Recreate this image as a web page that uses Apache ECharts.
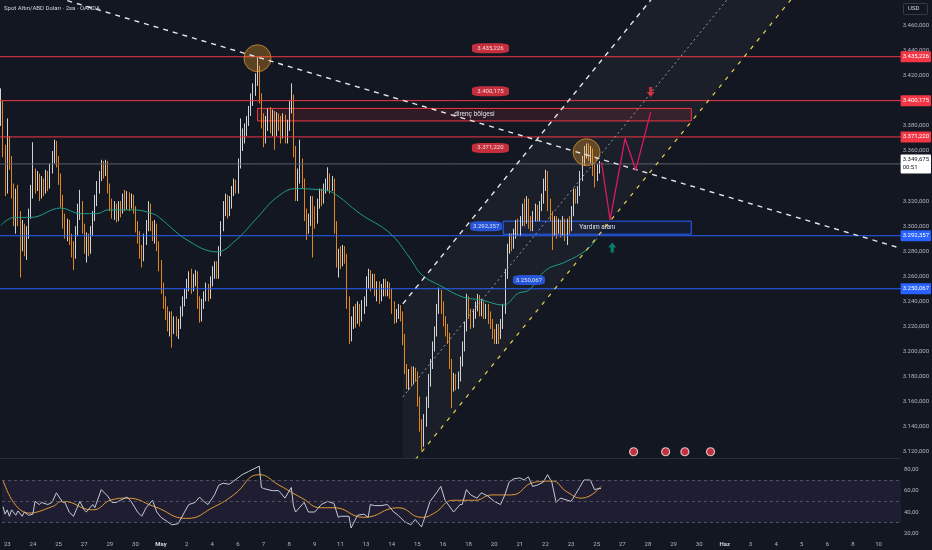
<!DOCTYPE html>
<html><head><meta charset="utf-8">
<script src="https://cdn.jsdelivr.net/npm/echarts@6/dist/echarts.min.js"></script>
<style>html,body{margin:0;padding:0;background:#131722;}#c{width:932px;height:550px;}</style>
</head><body><div id="c"></div><script>
// ---------- DATA ----------
const dayLabels = ['23','24','25','27','29','30','May','2','4','6','7','8','9','11','13','14','15','16','18','20','21','22','23','25','27','28','29','30','Haz','3','4','5','6','8','10'];
const barsPerDay = 12;
const firstDayBar = 2;
const slotCount = 421;

// 2h candles: [open, close, low, high]
const ohlc = [
[3385,3396,3380,3410],[3396,3362,3355,3400],[3362,3330,3324,3365],[3330,3368,3326,3386],[3368,3352,3345,3372],[3352,3330,3322,3356],[3330,3312,3300,3334],[3312,3325,3294,3330],[3325,3307,3300,3333],[3307,3290,3259,3312],
[3290,3298,3280,3305],[3298,3285,3276,3302],[3285,3295,3273,3300],[3295,3310,3290,3314],[3310,3328,3306,3333],[3328,3340,3322,3367],[3340,3332,3326,3346],[3332,3338,3328,3344],[3338,3326,3320,3342],[3326,3334,3322,3340],
[3334,3330,3324,3338],[3330,3340,3326,3345],[3340,3333,3328,3344],[3333,3345,3330,3350],[3345,3356,3342,3360],[3356,3364,3350,3369],[3364,3352,3347,3368],[3352,3338,3333,3356],[3338,3320,3315,3342],[3320,3305,3298,3325],
[3305,3296,3290,3310],[3296,3302,3288,3306],[3302,3290,3285,3305],[3290,3282,3275,3294],[3282,3278,3265,3288],[3278,3296,3274,3300],[3296,3312,3292,3318],[3312,3318,3305,3329],[3318,3298,3294,3320],[3298,3284,3278,3302],
[3284,3290,3271,3295],[3290,3282,3276,3294],[3282,3296,3278,3300],[3296,3308,3292,3312],[3308,3320,3304,3325],[3320,3332,3316,3336],[3332,3340,3326,3344],[3340,3348,3336,3353],[3348,3344,3338,3352],[3344,3350,3340,3353],
[3350,3330,3326,3352],[3330,3318,3312,3334],[3318,3310,3306,3322],[3310,3315,3305,3320],[3315,3308,3303,3318],[3308,3316,3304,3320],[3316,3312,3307,3320],[3312,3322,3310,3326],[3322,3316,3312,3329],[3316,3324,3313,3328],
[3324,3318,3312,3327],[3318,3322,3314,3326],[3322,3314,3310,3325],[3314,3300,3295,3316],[3300,3292,3286,3304],[3292,3280,3274,3296],[3280,3276,3267,3285],[3276,3290,3272,3294],[3290,3300,3285,3305],[3300,3316,3296,3320],
[3316,3300,3296,3318],[3300,3292,3288,3304],[3292,3300,3286,3305],[3300,3284,3280,3302],[3284,3270,3264,3288],[3270,3252,3246,3273],[3252,3240,3234,3255],[3240,3230,3225,3244],[3230,3222,3216,3236],[3222,3228,3212,3232],
[3228,3218,3203,3232],[3218,3224,3214,3228],[3224,3216,3212,3228],[3216,3222,3210,3226],[3222,3232,3218,3236],[3232,3240,3228,3244],[3240,3246,3236,3250],[3246,3254,3242,3258],[3254,3260,3248,3264],[3260,3252,3246,3266],
[3252,3258,3248,3262],[3258,3262,3252,3265],[3262,3240,3234,3264],[3240,3228,3223,3244],[3228,3238,3224,3242],[3238,3244,3234,3248],[3244,3250,3240,3255],[3250,3246,3240,3254],[3246,3256,3242,3260],[3256,3264,3252,3268],
[3264,3268,3258,3272],[3268,3262,3258,3272],[3262,3280,3258,3284],[3280,3300,3276,3304],[3300,3315,3296,3320],[3315,3322,3308,3326],[3322,3312,3306,3325],[3312,3318,3308,3324],[3318,3328,3314,3332],[3328,3334,3324,3338],
[3334,3330,3326,3337],[3330,3350,3326,3354],[3350,3366,3346,3386],[3366,3372,3360,3378],[3372,3378,3366,3382],[3378,3384,3372,3388],[3384,3392,3380,3396],[3392,3402,3388,3406],[3402,3410,3396,3414],[3410,3418,3404,3422],
[3418,3425,3412,3435],[3425,3402,3398,3428],[3402,3385,3378,3406],[3385,3370,3363,3390],[3370,3382,3366,3388],[3382,3390,3376,3394],[3390,3380,3374,3395],[3380,3388,3372,3393],[3388,3378,3361,3392],[3378,3386,3372,3391],
[3386,3382,3376,3390],[3382,3376,3366,3388],[3376,3386,3370,3390],[3386,3372,3366,3389],[3372,3380,3366,3385],[3380,3396,3376,3400],[3396,3402,3390,3414],[3402,3360,3355,3405],[3360,3324,3320,3364],[3324,3340,3320,3346],
[3340,3350,3334,3369],[3350,3336,3330,3354],[3336,3310,3304,3338],[3310,3298,3289,3314],[3298,3306,3294,3310],[3306,3320,3300,3324],[3320,3312,3275,3324],[3312,3306,3298,3316],[3306,3318,3302,3322],[3318,3326,3314,3330],
[3326,3322,3316,3330],[3322,3330,3318,3334],[3330,3334,3326,3338],[3334,3338,3328,3347],[3338,3332,3326,3342],[3332,3336,3328,3340],[3336,3300,3294,3338],[3300,3272,3267,3304],[3272,3278,3259,3282],[3278,3272,3266,3284],
[3272,3280,3268,3285],[3280,3276,3270,3284],[3276,3240,3234,3278],[3240,3212,3206,3244],[3212,3222,3208,3228],[3222,3232,3218,3236],[3232,3226,3219,3238],[3226,3234,3222,3240],[3234,3228,3220,3238],[3228,3236,3224,3241],
[3236,3240,3230,3244],[3240,3256,3236,3260],[3256,3262,3250,3266],[3262,3254,3248,3265],[3254,3258,3250,3262],[3258,3248,3244,3262],[3248,3252,3240,3256],[3252,3244,3238,3256],[3244,3250,3240,3254],[3250,3254,3244,3258],
[3254,3248,3244,3258],[3248,3252,3244,3256],[3252,3246,3242,3255],[3246,3236,3230,3250],[3236,3226,3222,3240],[3226,3230,3223,3234],[3230,3234,3226,3238],[3234,3228,3224,3237],[3228,3210,3205,3232],[3210,3186,3182,3214],
[3186,3176,3170,3190],[3176,3182,3169,3186],[3182,3178,3172,3188],[3178,3184,3174,3188],[3184,3180,3176,3187],[3180,3160,3156,3184],[3160,3140,3136,3164],[3140,3128,3121,3146],[3128,3145,3124,3150],[3145,3160,3140,3164],
[3160,3176,3155,3182],[3176,3190,3172,3194],[3190,3204,3186,3208],[3204,3216,3200,3220],[3216,3234,3212,3238],[3234,3246,3230,3251],[3246,3236,3230,3249],[3236,3224,3220,3240],[3224,3218,3212,3228],[3218,3212,3206,3222],
[3212,3190,3186,3215],[3190,3172,3155,3194],[3172,3178,3168,3183],[3178,3174,3169,3182],[3174,3180,3170,3184],[3180,3192,3176,3196],[3192,3204,3188,3208],[3204,3220,3200,3224],[3220,3240,3216,3246],[3240,3230,3226,3244],
[3230,3222,3218,3234],[3222,3230,3219,3234],[3230,3236,3226,3240],[3236,3242,3232,3246],[3242,3234,3228,3245],[3234,3238,3228,3242],[3238,3230,3226,3240],[3230,3235,3226,3238],[3235,3228,3222,3238],[3228,3222,3218,3232],
[3222,3214,3210,3226],[3214,3210,3206,3218],[3210,3218,3206,3222],[3218,3212,3206,3222],[3212,3222,3210,3226],[3222,3234,3218,3238],[3234,3262,3230,3266],[3262,3282,3258,3286],[3282,3290,3278,3294],[3290,3284,3280,3294],
[3284,3294,3282,3298],[3294,3300,3290,3305],[3300,3296,3292,3306],[3296,3304,3292,3308],[3304,3312,3300,3318],[3312,3306,3300,3322],[3306,3318,3302,3324],[3318,3304,3298,3322],[3304,3300,3296,3308],[3300,3308,3296,3312],
[3308,3314,3304,3318],[3314,3308,3304,3317],[3308,3316,3304,3320],[3316,3322,3312,3326],[3322,3334,3318,3338],[3334,3342,3328,3345],[3342,3318,3312,3344],[3318,3308,3304,3322],[3308,3296,3281,3312],[3296,3304,3292,3308],
[3304,3298,3290,3308],[3298,3302,3294,3306],[3302,3296,3291,3305],[3296,3304,3292,3308],[3304,3298,3288,3306],[3298,3302,3285,3306],[3302,3300,3294,3308],[3300,3312,3296,3316],[3312,3326,3308,3330],[3326,3322,3318,3330],
[3322,3328,3318,3332],[3328,3340,3324,3344],[3340,3352,3336,3356],[3352,3358,3348,3364],[3358,3362,3354,3366],[3362,3356,3352,3366],[3356,3360,3350,3364],[3360,3346,3340,3362],[3346,3340,3331,3350],[3340,3346,3336,3350],
[3346,3349.675,3342,3352]
];

// teal moving average [bar, price]
const maLine = [[0,3300.8],[6,3307],[14,3307],[28,3314.5],[37,3310],[45,3310],[50,3313],[62,3313],[71,3310],[74,3307],[87,3289],[101,3279.5],[110,3289],[120,3307],[129,3323],[138,3330],[149,3329],[155,3327],[168,3310],[182,3294.4],[191,3275.3],[197,3261],[205,3253],[216,3243.5],[225,3241],[235,3237],[242,3246.5],[247,3249],[255,3265],[264,3271.4],[274,3281],[279,3290.6]];

// RSI [bar, value]
const rsiLine = [[0,45],[1,38],[2,42],[3,36],[4,42],[6,37],[7,41],[9,36],[10,40],[12,37],[14,38],[15,50],[17,47],[18,49],[21,47],[23,49],[25,58],[28,49],[29,49],[31,40],[33,36],[36,50],[38,42],[39,40],[42,47],[43,44],[46,61],[49,55],[51,49],[53,49],[58,54],[60,50],[63,40],[65,36],[67,44],[70,51],[72,40],[74,35],[77,31],[79,28],[82,29],[85,40],[87,47],[90,49],[92,54],[94,50],[96,47],[99,56],[101,65],[103,67],[106,66],[108,69],[112,75],[115,78],[120,83],[121,63],[122,62],[126,60],[129,60],[130,58],[132,53],[135,63],[136,46],[137,40],[141,49],[143,40],[146,40],[149,47],[152,50],[155,48],[157,35],[158,36],[162,36],[163,25],[166,37],[169,38],[171,35],[172,47],[174,46],[177,46],[180,47],[183,40],[185,37],[188,31],[191,28],[193,33],[196,26],[200,50],[203,58],[205,64],[207,51],[211,40],[214,47],[215,47],[217,61],[219,56],[222,53],[224,58],[227,55],[230,50],[233,47],[235,56],[237,68],[239,71],[242,72],[244,70],[246,73],[248,64],[250,65],[253,68],[255,75],[257,68],[259,49],[261,53],[266,50],[267,53],[270,63],[272,70],[275,70],[277,61],[279,62],[280,62]];
const rsiMa = [[0,70],[12,39],[23,45],[28,50],[42,42],[51,51.5],[58,53],[71,45],[86,34],[99,45],[108,56],[120,75],[129,65.5],[140,53],[149,44],[155,44],[169,35],[185,44],[196,35],[202,39],[211,51],[221,51],[229,56],[238,56],[249,68],[257,69],[264,59],[271,53],[280,64]];
const rsiBands = [70, 50, 30];

// levels and drawings (data units: bar index, price)
const redLevels = [3435.226, 3400.175, 3371.220];
const blueLevels = [3292.357, 3250.067];
const lastPrice = 3349.675;
const countdown = '00:51';
const resistanceZone = [[120, 3394], [323, 3384]];
const supportZone = [[235, 3304], [323, 3293.6]];
const redTags = [[229, 3442, 3435.226], [229, 3407.6, 3400.175], [229, 3362.4, 3371.220]];
const blueTags = [[227, 3300, 3292.357], [247, 3257, 3250.067]];
const downTrend = [[31, 3480], [419, 3283.4]];
const channelUpper = [[188, 3238], [310, 3493]];
const channelMid = [[188, 3163.7], [345, 3491.7]];
const channelLower = [[188, 3101.4], [375, 3492]];
const projection = [[281, 3351], [285, 3305], [292, 3370], [297, 3345], [304, 3391]];
const arrowDown = [[304, 3407]];
const arrowUp = [[286, 3283]];
const highlights = [[120, 3434], [274, 3359]];
const events = [[296, 3120], [311, 3120], [320, 3120], [332, 3120]];

// ---------- BUILD ----------
function fmt(v, d) {
  const s = v.toFixed(d); const parts = s.split('.');
  return parts[0].replace(/\B(?=(\d{3})+(?!\d))/g, '.') + (parts[1] ? ',' + parts[1] : '');
}
const categories = [];
for (let k = 0; k < slotCount; k++) {
  const d = (k - firstDayBar) / barsPerDay;
  categories.push(k >= firstDayBar && Number.isInteger(d) && d < dayLabels.length ? dayLabels[d] : '');
}
const FONT = 'Roboto';
const txt = '#b2b5be';
const RED = '#f23645', BLUE = '#2962ff';

// each horizontal level: a plain line across the pane + a marker label on the price scale
function levelSeries(v, color, bg, textColor, extra) {
  return {type: 'line', xAxisIndex: 0, yAxisIndex: 0, z: 5, symbol: 'none', silent: true, clip: true,
    data: [[-2, v], [slotCount + 1, v]],
    lineStyle: {color: color, width: 1, type: 'solid'},
    markLine: {silent: true, symbol: ['none', 'none'], z: 6, precision: 3,
      lineStyle: {color: 'rgba(0,0,0,0)', width: 1},
      label: {show: true, position: 'end', distance: 1, fontSize: 6, fontFamily: FONT, padding: [2, 2, 1, 2],
        borderRadius: 1, backgroundColor: bg, color: textColor, lineHeight: 8, opacity: 1,
        formatter: () => fmt(v, 3) + (extra || '')},
      data: [{yAxis: v}]}};
}
const levelList = [];
redLevels.forEach(v => levelList.push(levelSeries(v, RED, RED, '#ffffff')));
blueLevels.forEach(v => levelList.push(levelSeries(v, BLUE, BLUE, '#ffffff')));
levelList.push(levelSeries(lastPrice, '#5d606b', '#ffffff', '#131722', '\n' + countdown));

const chart = echarts.init(document.getElementById('c'), null, {renderer: 'canvas'});
chart.setOption({
  backgroundColor: '#131722',
  animation: false,
  textStyle: {fontFamily: FONT},
  graphic: [
    {type: 'text', left: 4, top: 5, style: {text: 'Spot Altın/ABD Doları · 2sa · OANDA', fill: '#d1d4dc', font: '6px Roboto'}},
    {type: 'rect', left: 903, top: 3, shape: {width: 24, height: 11, r: 1}, style: {fill: '#131722', stroke: '#363a45', lineWidth: 1}},
    {type: 'text', left: 908, top: 5.5, style: {text: 'USD', fill: '#d1d4dc', font: '6px Roboto'}}
  ],
  grid: [
    {left: 0, right: 31, top: 0, height: 458},
    {left: 0, right: 31, top: 460, height: 76}
  ],
  xAxis: [
    {type: 'category', gridIndex: 0, data: categories, axisLabel: {show: false}, axisTick: {show: false},
     axisLine: {show: true, lineStyle: {color: '#2a2e39'}}, splitLine: {show: false}},
    {type: 'category', gridIndex: 1, data: categories, axisTick: {show: false}, axisLine: {show: false},
     splitLine: {show: false},
     axisLabel: {interval: 0, color: txt, fontSize: 6, margin: 5, fontFamily: FONT,
       formatter: v => (v === 'May' || v === 'Haz') ? '{m|' + v + '}' : v,
       rich: {m: {fontWeight: 'bold', color: '#d1d4dc', fontSize: 6}}}}
  ],
  yAxis: [
    {type: 'value', gridIndex: 0, position: 'right', min: 3115, max: 3480.5, minInterval: 20, maxInterval: 20,
     splitLine: {show: false}, axisLine: {show: false}, axisTick: {show: false},
     axisLabel: {color: txt, fontSize: 6, margin: 3, fontFamily: FONT,
       formatter: v => (Math.abs(v % 20) < 1e-6 && v >= 3120 && v <= 3460 && v !== 3400 && v !== 3340) ? fmt(v, 3) : ''}},
    {type: 'value', gridIndex: 1, position: 'right', min: 17.52, max: 88.74, minInterval: 20, maxInterval: 20,
     splitLine: {show: false}, axisLine: {show: false}, axisTick: {show: false},
     axisLabel: {color: txt, fontSize: 6, margin: 3, fontFamily: FONT,
       formatter: v => (Math.abs(v % 20) < 1e-6) ? fmt(v, 2) : ''}}
  ],
  series: [
    {type: 'custom', xAxisIndex: 0, yAxisIndex: 0, clip: true, silent: true, z: 1, data: [[0, 3300]],
     renderItem: (params, api) => {
       const pts = [channelUpper[0], channelUpper[1], channelLower[1], channelLower[0]].map(p => api.coord(p));
       return {type: 'polygon', shape: {points: pts}, style: {fill: 'rgba(200,205,220,0.045)'}};
     }},
    {type: 'candlestick', xAxisIndex: 0, yAxisIndex: 0, data: ohlc, barWidth: '60%', z: 3,
     itemStyle: {color: '#e8e8ea', color0: '#f7931a', borderColor: '#e8e8ea', borderColor0: '#f7931a', borderWidth: 0.9},
     markArea: {silent: true, z: 2,
       data: [
         [{coord: resistanceZone[0], itemStyle: {color: 'rgba(242,54,69,0.13)', borderColor: RED, borderWidth: 1},
           label: {show: true, position: 'inside', formatter: 'direnç bölgesi', color: '#e0e3eb', fontSize: 6.5, fontFamily: FONT}},
          {coord: resistanceZone[1]}],
         [{coord: supportZone[0], itemStyle: {color: 'rgba(41,98,255,0.07)', borderColor: BLUE, borderWidth: 1},
           label: {show: true, position: 'inside', formatter: 'Yardım alanı', color: '#e0e3eb', fontSize: 6.5, fontFamily: FONT}},
          {coord: supportZone[1]}]
       ]}},
    ...levelList,
    {type: 'line', xAxisIndex: 0, yAxisIndex: 0, data: maLine, smooth: 0.4, symbol: 'none', z: 4,
     lineStyle: {color: '#1f9d8b', width: 1}},
    {type: 'line', xAxisIndex: 0, yAxisIndex: 0, data: downTrend, symbol: 'none', z: 6,
     lineStyle: {color: '#e6e6e6', width: 1.4, type: [5, 5]}},
    {type: 'line', xAxisIndex: 0, yAxisIndex: 0, data: channelUpper, symbol: 'none', z: 6,
     lineStyle: {color: '#e6e6e6', width: 1.4, type: [5, 5]}},
    {type: 'line', xAxisIndex: 0, yAxisIndex: 0, data: channelMid, symbol: 'none', z: 6,
     lineStyle: {color: '#9a9ca3', width: 1, type: [2, 3]}},
    {type: 'line', xAxisIndex: 0, yAxisIndex: 0, data: channelLower, symbol: 'none', z: 6,
     lineStyle: {color: '#e8d44d', width: 1.2, type: [4, 6]}},
    {type: 'line', xAxisIndex: 0, yAxisIndex: 0, z: 7, symbol: 'none',
     data: projection.map((p, i) => i === projection.length - 1
       ? {value: p, symbol: 'arrow', symbolSize: [6, 7], symbolRotate: -15, itemStyle: {color: '#d81b60'}} : p),
     lineStyle: {color: '#d81b60', width: 1.3}},
    {type: 'scatter', xAxisIndex: 0, yAxisIndex: 0, z: 8, symbol: 'roundRect', symbolSize: [37, 10],
     itemStyle: {color: RED},
     label: {show: true, position: 'inside', formatter: '{b}', color: '#fff', fontSize: 6, fontFamily: FONT},
     data: redTags.map(t => ({name: fmt(t[2], 3), value: [t[0], t[1]]}))},
    {type: 'scatter', xAxisIndex: 0, yAxisIndex: 0, z: 8, symbol: 'roundRect', symbolSize: [32, 10],
     itemStyle: {color: BLUE},
     label: {show: true, position: 'inside', formatter: '{b}', color: '#fff', fontSize: 6, fontFamily: FONT},
     data: blueTags.map(t => ({name: fmt(t[2], 3), value: [t[0], t[1]]}))},
    {type: 'scatter', xAxisIndex: 0, yAxisIndex: 0, z: 5, symbol: 'circle', symbolSize: 27,
     itemStyle: {color: 'rgba(255,167,38,0.38)', borderColor: '#d8902c', borderWidth: 1},
     data: highlights},
    {type: 'scatter', xAxisIndex: 0, yAxisIndex: 0, z: 8,
     symbol: 'path://M3,0 L7,0 L7,5 L10,5 L5,10 L0,5 L3,5 Z', symbolSize: [8, 10],
     itemStyle: {color: RED}, data: arrowDown},
    {type: 'scatter', xAxisIndex: 0, yAxisIndex: 0, z: 8,
     symbol: 'path://M5,0 L10,5 L7,5 L7,10 L3,10 L3,5 L0,5 Z', symbolSize: [8, 10],
     itemStyle: {color: '#089981'}, data: arrowUp},
    {type: 'scatter', xAxisIndex: 0, yAxisIndex: 0, z: 8, symbol: 'circle', symbolSize: 8,
     itemStyle: {color: '#f23645', borderColor: '#e8e8ea', borderWidth: 1.2}, data: events},
    {type: 'line', xAxisIndex: 1, yAxisIndex: 1, data: rsiLine, symbol: 'none', z: 4,
     lineStyle: {color: '#c7c9d6', width: 1},
     markArea: {silent: true, itemStyle: {color: 'rgba(126,87,194,0.1)'}, data: [[{yAxis: rsiBands[0]}, {yAxis: rsiBands[2]}]]},
     markLine: {silent: true, symbol: ['none', 'none'], label: {show: false},
       lineStyle: {color: '#5d606b', width: 0.8, type: [3, 3]},
       data: rsiBands.map(v => ({yAxis: v}))}},
    {type: 'line', xAxisIndex: 1, yAxisIndex: 1, data: rsiMa, smooth: 0.5, symbol: 'none', z: 3,
     lineStyle: {color: '#e39a34', width: 1}}
  ]
});
</script></body></html>
